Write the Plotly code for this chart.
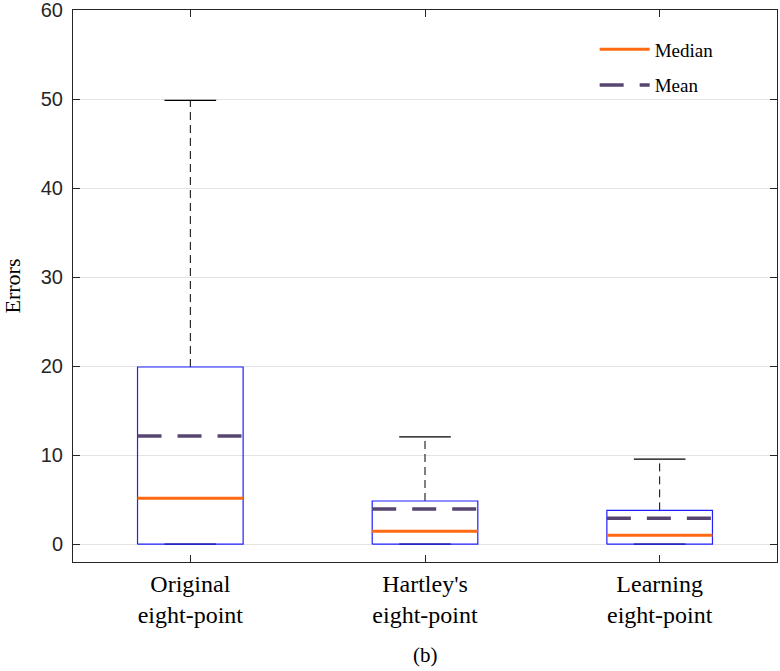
import plotly.graph_objects as go

# data
categories = ["Original<br>eight-point", "Hartley's<br>eight-point", "Learning<br>eight-point"]
positions = [1, 2, 3]
lower_whisker = [0.0, 0.0, 0.0]
q1 = [0.0, 0.0, 0.0]
median = [5.15, 1.45, 1.0]
q3 = [19.9, 4.85, 3.8]
upper_whisker = [49.85, 12.05, 9.55]
mean = [12.15, 3.95, 2.9]

BOX_HALF = 0.225
CAP_HALF = 0.11

serif = "Liberation Serif, Times New Roman, serif"
sans = "Liberation Sans, Arial, sans-serif"


def segs(xs0, xs1, ys0, ys1):
    # join several line segments into one trace, split by None
    x, y = [], []
    for a, b, c, d in zip(xs0, xs1, ys0, ys1):
        x += [a, b, None]
        y += [c, d, None]
    return x, y


fig = go.Figure()

# whiskers (dashed, black)
wx, wy = segs(positions, positions, q3, upper_whisker)
lx, ly = segs(positions, positions, lower_whisker, q1)
fig.add_trace(go.Scatter(x=wx + lx, y=wy + ly, mode='lines', showlegend=False,
                         line=dict(color='black', width=1, dash='8px,5px'), hoverinfo='skip'))

# whisker caps
cx, cy = segs([p - CAP_HALF for p in positions], [p + CAP_HALF for p in positions], upper_whisker, upper_whisker)
cx2, cy2 = segs([p - CAP_HALF for p in positions], [p + CAP_HALF for p in positions], lower_whisker, lower_whisker)
fig.add_trace(go.Scatter(x=cx + cx2, y=cy + cy2, mode='lines', showlegend=False,
                         line=dict(color='black', width=1.2), hoverinfo='skip'))

# boxes (blue outline)
bx, by = [], []
for p, a, b in zip(positions, q1, q3):
    bx += [p - BOX_HALF, p + BOX_HALF, p + BOX_HALF, p - BOX_HALF, p - BOX_HALF, None]
    by += [a, a, b, b, a, None]
fig.add_trace(go.Scatter(x=bx, y=by, mode='lines', showlegend=False,
                         line=dict(color='#1f1fff', width=1.2), hoverinfo='skip'))

# median
mx, my = segs([p - BOX_HALF for p in positions], [p + BOX_HALF for p in positions], median, median)
fig.add_trace(go.Scatter(x=mx, y=my, mode='lines', name='Median', legendgroup='med',
                         line=dict(color='#ff6a13', width=3)))

# mean
ex, ey = segs([p - BOX_HALF for p in positions], [p + BOX_HALF for p in positions], mean, mean)
fig.add_trace(go.Scatter(x=ex, y=ey, mode='lines', name='Mean', legendgroup='mean',
                         line=dict(color='#574672', width=3.5, dash='24px,16px')))

fig.update_layout(
    width=780, height=671,
    margin=dict(l=73, r=3, t=10, b=109),
    plot_bgcolor='white', paper_bgcolor='white',
    showlegend=True,
    legend=dict(x=0.741, y=0.963, xanchor='left', yanchor='top',
                bgcolor='rgba(0,0,0,0)', font=dict(family=serif, size=19, color='black'),
                itemwidth=50, tracegroupgap=8),
    annotations=[dict(text='(b)', x=0.5, y=-0.168, xref='paper', yref='paper',
                      xanchor='center', yanchor='middle',
                      showarrow=False, font=dict(family=serif, size=21, color='black'))],
)

fig.update_xaxes(
    range=[0.5, 3.5], tickvals=positions, ticktext=categories,
    showgrid=False, zeroline=False, automargin=False,
    showline=True, mirror='ticks', linecolor='#262626', linewidth=1,
    ticks='inside', ticklen=7, tickcolor='#262626',
    tickfont=dict(family=serif, size=24, color='black'),
)
fig.update_yaxes(
    range=[-2, 60], tickvals=[0, 10, 20, 30, 40, 50, 60],
    showgrid=True, gridcolor='#e3e3e3', gridwidth=1, zeroline=False, automargin=False,
    showline=True, mirror='ticks', linecolor='#262626', linewidth=1,
    ticks='inside', ticklen=7, tickcolor='#262626', ticklabeloverflow='allow',
    ticklabelstandoff=5,
    tickfont=dict(family=sans, size=20, color='#262626'),
    title=dict(text='Errors', font=dict(family=serif, size=22, color='black'), standoff=25),
)

# drop the default 8px page margin so the figure sits at the window's corner
fig.write_html("out.html", config={'displayModeBar': False},
               post_script="document.body.style.margin='0';")
